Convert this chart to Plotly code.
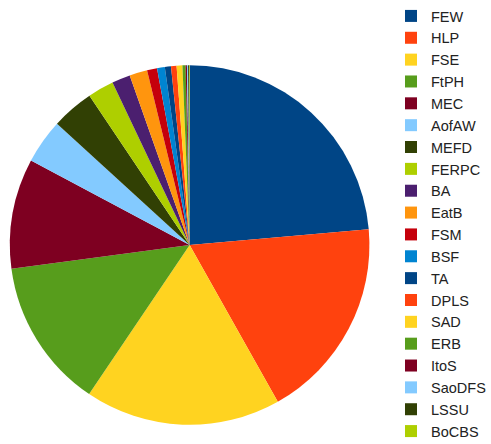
import plotly.graph_objects as go

# Categories in drawing order (clockwise from 12 o'clock)
labels = ["FEW", "HLP", "FSE", "FtPH", "MEC", "AofAW", "MEFD", "FERPC", "BA", "EatB",
          "FSM", "BSF", "TA", "DPLS", "SAD", "ERB", "ItoS", "SaoDFS", "LSSU", "BoCBS"]

# Share of each category (percent)
shares = [23.6, 18.25, 17.6, 13.45, 9.9, 4.0, 3.8, 2.35, 1.65, 1.6,
          0.9, 0.7, 0.55, 0.5, 0.52, 0.28, 0.12, 0.1, 0.08, 0.06]

palette = ["#004586", "#ff420e", "#ffd320", "#579d1c", "#7e0021", "#83caff",
           "#314004", "#aecf00", "#4b1f6f", "#ff950e", "#c5000b", "#0084d1"]
colors = [palette[i % len(palette)] for i in range(len(labels))]

W, H = 491, 444
cx, cy, r = 192, 245, 182  # pie centre / radius in pixels

fig = go.Figure(go.Pie(
    labels=labels,
    values=shares,
    sort=False,
    direction="clockwise",
    rotation=0,
    marker=dict(colors=colors, line=dict(width=0)),
    textinfo="none",
    hoverinfo="label+percent",
    domain=dict(x=[(cx - r) / W, (cx + r) / W],
                y=[(H - cy - r) / H, (H - cy + r) / H]),
))

fig.update_layout(
    width=W, height=H,
    margin=dict(l=0, r=0, t=0, b=0),
    paper_bgcolor="white",
    plot_bgcolor="white",
    showlegend=True,
    legend=dict(
        x=396 / W, xanchor="left",
        y=1.0, yanchor="top",
        font=dict(family="Liberation Sans, Arial, sans-serif", size=14.5, color="#222222"),
        bgcolor="rgba(0,0,0,0)",
        borderwidth=0,
        itemclick=False,
    ),
)

fig.write_html("out.html")
